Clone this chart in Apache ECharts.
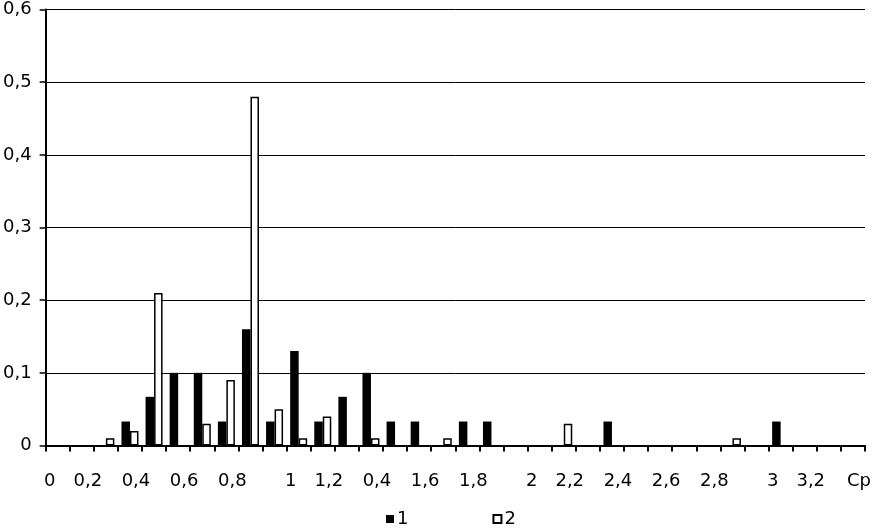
<!DOCTYPE html>
<html>
<head>
<meta charset="utf-8">
<style>html,body{margin:0;padding:0;background:#fff;}#c{width:876px;height:528px;}</style>
<script src="https://cdn.jsdelivr.net/npm/echarts@6/dist/echarts.min.js"></script>
</head>
<body>
<div id="c"></div>
<script>
// 34 category bins along the x axis; tick label shown for some bins
var categories = ['0','0,2','','0,4','','0,6','','0,8','','','1','1,2','','0,4','','1,6','','1,8','','','2','2,2','','2,4','','2,6','','2,8','','','3','3,2','','Cp'];
var series1 = [null,null,null,0.033,0.067,0.1,0.1,0.033,0.16,0.033,0.13,0.033,0.067,0.1,0.033,0.033,null,0.033,0.033,null,null,null,null,0.033,null,null,null,null,null,null,0.033,null,null,null];
var series2 = [null,null,0.01,0.02,0.21,null,0.03,0.09,0.48,0.05,0.01,0.04,null,0.01,null,null,0.01,null,null,null,null,0.03,null,null,null,null,null,null,0.01,null,null,null,null,null];
var yTicks = [0,0.1,0.2,0.3,0.4,0.5,0.6];
var seriesNames = ['1','2'];

var FONT = 'DejaVu Sans, Arial, sans-serif';
var FS = 18;
var chart = echarts.init(document.getElementById('c'), null, {renderer:'canvas'});
chart.setOption({
  animation:false,
  backgroundColor:'#fff',
  textStyle:{fontFamily:FONT,color:'#000'},
  grid:{left:45,right:11,top:9.5,bottom:82.5,containLabel:false},
  legend:{
    data:seriesNames,
    left:381, top:505,
    icon:'rect', itemWidth:8, itemHeight:8, itemGap:84,
    textStyle:{fontFamily:FONT,fontSize:FS,color:'#000',padding:[0,0,0,-2]}
  },
  xAxis:{
    type:'category',
    data:categories,
    boundaryGap:true,
    axisLine:{lineStyle:{color:'#000',width:2}},
    axisTick:{show:true,interval:0,length:6,lineStyle:{color:'#000',width:2}},
    axisLabel:{
      interval:0, margin:27, color:'#000', fontFamily:FONT, fontSize:FS,
      formatter:function(v){
        if(!v) return '';
        if(v.length===1) return '{l|'+v+'}';
        return '{r|'+v+'}';
      },
      rich:{
        l:{fontFamily:FONT,fontSize:FS,color:'#000',padding:[0,16,0,0]},
        r:{fontFamily:FONT,fontSize:FS,color:'#000',padding:[0,0,0,12]}
      }
    },
    splitLine:{show:false}
  },
  yAxis:{
    type:'value',
    min:yTicks[0], max:yTicks[yTicks.length-1], interval:0.1,
    axisLine:{show:true,lineStyle:{color:'#000',width:2}},
    axisTick:{show:true,length:6,lineStyle:{color:'#000',width:1.5}},
    axisLabel:{margin:14,color:'#000',fontFamily:FONT,fontSize:FS,
      formatter:function(v){return String(+v.toFixed(1)).replace('.',',');}},
    splitLine:{show:true,lineStyle:{color:'#000',width:1}}
  },
  series:[
    {name:seriesNames[0],type:'bar',data:series1,barWidth:8.5,barGap:'0%',
     itemStyle:{color:'#000',borderColor:'#000',borderWidth:0}},
    {name:seriesNames[1],type:'bar',data:series2,barWidth:8.5,barGap:'0%',
     itemStyle:{color:'#fff',borderColor:'#000',borderWidth:1.5}}
  ]
});
</script>
</body>
</html>
